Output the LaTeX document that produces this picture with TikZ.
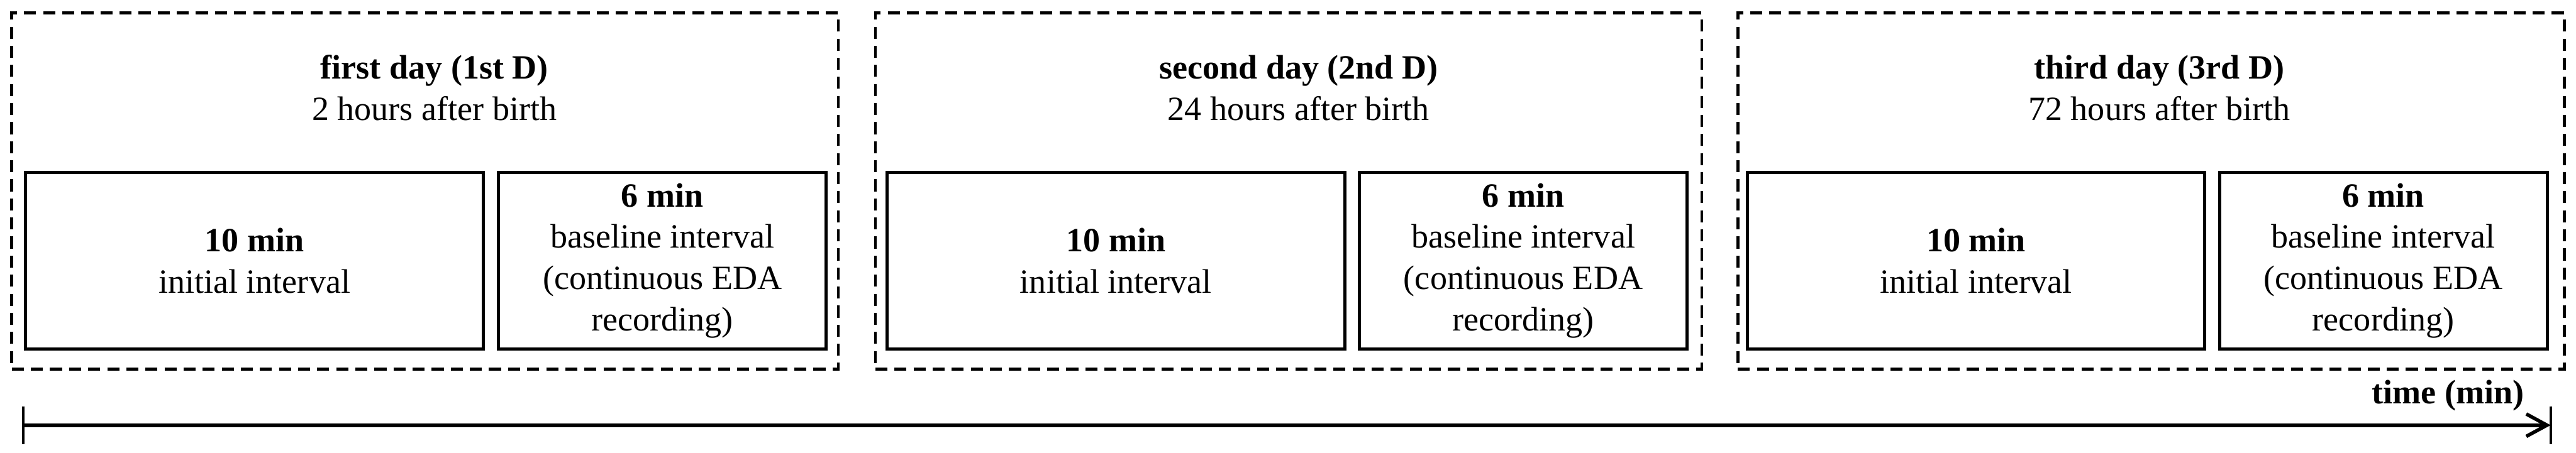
\documentclass[tikz,border=0pt]{standalone}
\usepackage{fontspec}
\setmainfont{Liberation Serif}
\usetikzlibrary{arrows.meta}

\begin{document}
\begin{tikzpicture}[
    >={Straight Barb[length=3.5mm,width=3.8mm]},
    font=\fontsize{16.4}{19.9}\selectfont,
    daybox/.style={
        draw,
        dash pattern=on 5.8pt off 3.4pt,
        line width=1.4pt,
        minimum width=14cm,
        minimum height=6.04cm,
        inner sep=0pt
    },
    daytitle/.style={
        align=center,
        inner sep=0pt
    },
    interval/.style={
        draw,
        line width=1.5pt,
        minimum height=3cm,
        align=center,
        inner sep=0pt
    },
    initbox/.style={interval, minimum width=7.75cm},
    basebox/.style={interval, minimum width=5.55cm}
]
\useasboundingbox (0,0) rectangle (43.64,-7.68);

% Days
\node[daybox] (day1) at (7.20,-3.24) {};
\node[daybox] (day2) at (21.83,-3.24) {};
\node[daybox] (day3) at (36.44,-3.24) {};

\node[daytitle] (title1) at (7.36,-1.49) {\textbf{first day (1st D)}\\2 hours after birth};
\node[daytitle] (title2) at (22.00,-1.49) {\textbf{second day (2nd D)}\\24 hours after birth};
\node[daytitle] (title3) at (36.58,-1.49) {\textbf{third day (3rd D)}\\72 hours after birth};

% Intervals
\node[initbox] (init1) at (4.31,-4.42) {\textbf{10 min}\\initial interval};
\node[basebox] (base1) at (11.22,-4.42) {\textbf{6 min}\\baseline interval\\(continuous EDA\\recording)};

\node[initbox] (init2) at (18.905,-4.42) {\textbf{10 min}\\initial interval};
\node[basebox] (base2) at (25.805,-4.42) {\textbf{6 min}\\baseline interval\\(continuous EDA\\recording)};

\node[initbox] (init3) at (33.475,-4.42) {\textbf{10 min}\\initial interval};
\node[basebox] (base3) at (40.375,-4.42) {\textbf{6 min}\\baseline interval\\(continuous EDA\\recording)};

% Time axis
\coordinate (t0) at (0.39,-7.21);
\coordinate (t1) at (43.21,-7.21);
\draw[->, line width=1.7pt] (t0) -- (t1);
\draw[line width=1.2pt] ([yshift=3.2mm]t0) -- ([yshift=-3.2mm]t0);
\draw[line width=1.2pt] ([yshift=3.2mm]t1) -- ([yshift=-3.2mm]t1);
\node[anchor=base east, inner sep=0pt] (timelabel) at (42.77,-6.85) {\textbf{time (min)}};

\end{tikzpicture}
\end{document}
